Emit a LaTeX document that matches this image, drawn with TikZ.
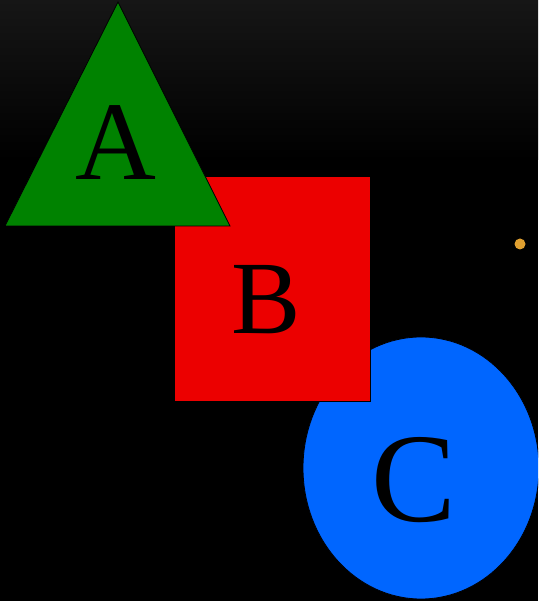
\documentclass[tikz,border=0pt]{standalone}
\usepackage{fontspec}
\setmainfont{Liberation Serif}
\definecolor{topgray}{RGB}{22,22,22}
\definecolor{tgreen}{RGB}{0,130,0}
\definecolor{sred}{RGB}{236,0,0}
\definecolor{cblue}{RGB}{0,102,255}
\definecolor{dotorange}{RGB}{224,160,48}
\tikzset{
  shapeline/.style={draw=black, line width=0.8pt, line join=miter},
  letter/.style={inner sep=0pt, anchor=base, text=black}
}
\begin{document}
\begin{tikzpicture}[x=1pt,y=1pt]
  \useasboundingbox (0,0) rectangle (538,601);
  \fill[black] (0,0) rectangle (538,601);
  \shade[top color=topgray, bottom color=black] (0,441) rectangle (538,601);
  \begin{scope}
    \clip (0,0) rectangle (538,601);
    % circle C
    \filldraw[fill=cblue, shapeline] (421,468-335) ellipse [x radius=118, y radius=131];
    % square B
    \filldraw[fill=sred, shapeline] (174,601-401) rectangle (370,601-176);
    % triangle A
    \filldraw[fill=tgreen, shapeline] (118,599) -- (230,601-226) -- (5,601-226) -- cycle;
  \end{scope}
  \node[letter, font=\fontsize{112}{112}\selectfont] (la) at (116,421) {A};
  \node[letter, font=\fontsize{104}{104}\selectfont] (lb) at (266,267) {B};
  \node[letter, font=\fontsize{127}{127}\selectfont] (lc) at (414,79) {C};
  \fill[dotorange] (520,601-244) circle (5.5);
\end{tikzpicture}
\end{document}
